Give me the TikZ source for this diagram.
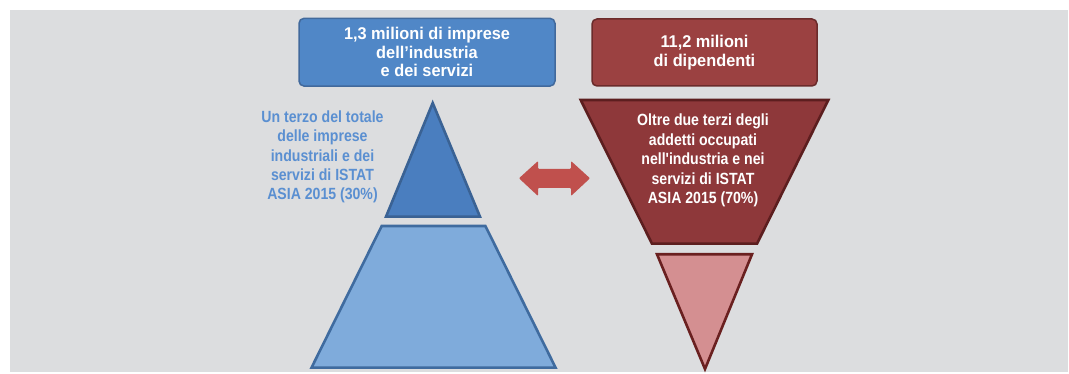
\documentclass[tikz,border=0pt]{standalone}
\usepackage{fontspec}
\setmainfont{Liberation Sans}[FakeStretch=0.96]
\newfontfamily\bodyfont{Liberation Sans}[FakeStretch=0.87]
\usetikzlibrary{shapes.geometric}
\definecolor{bg}{HTML}{DCDDDF}
\definecolor{bluebox}{HTML}{5087C7}
\definecolor{blueedge}{HTML}{41699C}
\definecolor{bluetri}{HTML}{4A7EBF}
\definecolor{bluetriedge}{HTML}{3A6294}
\definecolor{bluelight}{HTML}{7FABDB}
\definecolor{bluelightedge}{HTML}{3F6B9F}
\definecolor{bluetext}{HTML}{5A8FD1}
\definecolor{redbox}{HTML}{9B4141}
\definecolor{rededge}{HTML}{6B2B2B}
\definecolor{redtrap}{HTML}{8E383A}
\definecolor{redtrapedge}{HTML}{5C1E1F}
\definecolor{pinktri}{HTML}{D48F91}
\definecolor{pinkedge}{HTML}{6A2020}
\definecolor{arrowred}{HTML}{C0504D}
\tikzset{
  headbox/.style={rounded corners=5pt, line width=1.5pt, inner sep=0pt,
    text=white, align=center, font=\bfseries\fontsize{17}{18.7}\selectfont},
  shapeline/.style={line width=2.6pt, line join=miter},
  bodytext/.style={inner sep=0pt, align=center, anchor=north,
    font=\bodyfont\bfseries\fontsize{16.2}{19.4}\selectfont}
}
\begin{document}
\begin{tikzpicture}[x=1pt,y=1pt]
\useasboundingbox (0,0) rectangle (1069,374);
\fill[bg] (10,2) rectangle (1068,364);
% header boxes
\node[headbox, draw=blueedge, fill=bluebox, minimum width=256pt, minimum height=67.7pt]
  (hl) at (427,321.8) {1,3 milioni di imprese\\dell'industria\\e dei servizi};
\node[headbox, draw=rededge, fill=redbox, minimum width=225pt, minimum height=67pt]
  (hr) at (704.5,321.5) {11,2 milioni\\di dipendenti};
% left pyramid
\draw[shapeline, draw=bluetriedge, fill=bluetri]
  (432.7,271) -- (480,157.3) -- (386,157.3) -- cycle;
\draw[shapeline, draw=bluelightedge, fill=bluelight]
  (381.7,148) -- (485.4,148) -- (555.6,6.3) -- (311.5,6.3) -- cycle;
% right funnel
\draw[shapeline, draw=redtrapedge, fill=redtrap]
  (580.7,274) -- (828.3,274) -- (757,130.3) -- (652,130.3) -- cycle;
\draw[shapeline, draw=pinkedge, fill=pinktri]
  (657,119.7) -- (752,119.7) -- (705,5) -- cycle;
% texts
\node[bodytext, text=bluetext] (tl) at (322.5,263.7)
  {Un terzo del totale\\delle imprese\\industriali e dei\\servizi di ISTAT\\ASIA 2015 (30\%)};
\node[bodytext, text=white] (tr) at (703,260)
  {Oltre due terzi degli\\addetti occupati\\nell'industria e nei\\servizi di ISTAT\\ASIA 2015 (70\%)};
% double arrow
\fill[arrowred, rounded corners=1pt]
  (519,195.7) -- (538,213) -- (538,205) -- (571,205) -- (571,213) -- (590,195.7)
  -- (571,178) -- (571,186) -- (538,186) -- (538,178) -- cycle;
\end{tikzpicture}
\end{document}
